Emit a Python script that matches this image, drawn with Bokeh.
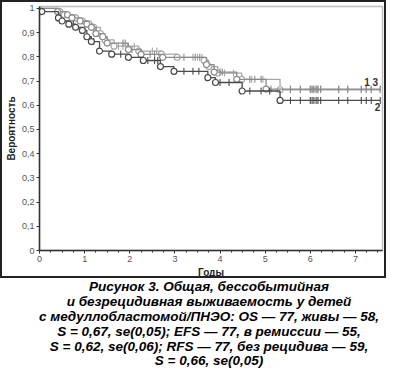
import numpy as np
from bokeh.plotting import figure
from bokeh.layouts import column
from bokeh.models import Range1d, FixedTicker, CustomJSTickFormatter
from bokeh.core.properties import value
from bokeh.embed import file_html
from bokeh.resources import INLINE

# ---- data ----
os_times = [0.40, 0.62, 0.72, 0.90, 1.05, 1.15, 1.25, 1.40, 1.50, 1.97, 2.25, 2.73, 3.70, 3.87, 4.37, 5.02]
os_surv = [0.987, 0.974, 0.961, 0.948, 0.935, 0.922, 0.896, 0.883, 0.857, 0.830, 0.810, 0.798, 0.768, 0.737, 0.707, 0.667]
os_cens = [1.85, 1.90, 2.05, 2.45, 2.55, 3.20, 3.45, 3.55, 4.00, 4.05, 4.66, 4.77, 4.91, 5.13,
           5.56, 5.78, 6.00, 6.04, 6.08, 6.13, 6.17, 6.23, 6.63, 6.83, 7.13, 7.24, 7.35, 7.55]

efs_times = [0.05, 0.42, 0.50, 0.65, 0.80, 0.95, 1.05, 1.15, 1.33, 1.60, 1.97, 2.30, 2.68, 2.98, 3.73, 3.90, 4.49, 5.33]
efs_surv = [0.987, 0.961, 0.948, 0.935, 0.922, 0.909, 0.883, 0.863, 0.824, 0.811, 0.798, 0.785, 0.760, 0.740, 0.714, 0.694, 0.659, 0.620]
efs_cens = [0.75, 1.20, 1.80, 2.00, 2.40, 2.55, 2.62, 3.20, 3.40, 3.53, 4.00, 4.20, 4.66, 4.91, 5.10,
            5.56, 5.78, 6.00, 6.04, 6.08, 6.13, 6.17, 6.23, 6.63, 6.83, 7.13, 7.24, 7.35, 7.55]

rfs_times = [0.45, 0.55, 0.80, 0.95, 1.10, 1.20, 1.35, 1.45, 1.65, 2.20, 2.70, 3.05, 3.65, 3.75, 3.95, 4.48, 5.33]
rfs_surv = [0.987, 0.974, 0.961, 0.948, 0.935, 0.922, 0.896, 0.870, 0.844, 0.824, 0.811, 0.798, 0.785, 0.760, 0.733, 0.707, 0.664]
rfs_cens = [0.60, 1.75, 1.85, 1.95, 2.10, 2.50, 2.60, 3.40, 3.50, 3.60, 3.98, 4.10, 4.30, 4.70, 4.95,
            5.56, 5.78, 6.00, 6.04, 6.08, 6.13, 6.17, 6.23, 6.63, 6.83, 7.13, 7.24, 7.35, 7.55]

curve_names = ["1", "2", "3"]
label_x = [7.26, 7.49, 7.44]
label_y = [0.698, 0.593, 0.698]

x_ticks = [0, 1, 2, 3, 4, 5, 6, 7]
y_ticks = [0, 0.1, 0.2, 0.3, 0.4, 0.5, 0.6, 0.7, 0.8, 0.9, 1.0]

caption_lines = [
    "Рисунок 3. Общая, бессобытийная",
    "и безрецидивная выживаемость у детей",
    "с медуллобластомой/ПНЭО: OS — 77, живы — 58,",
    "S = 0,67, se(0,05); EFS — 77, в ремиссии — 55,",
    "S = 0,62, se(0,06); RFS — 77, без рецидива — 59,",
    "S = 0,66, se(0,05)",
]

FONT = "Liberation Sans"
W, H = 382, 274

p = figure(width=W, height=H, x_range=Range1d(0, 7.6), y_range=Range1d(0, 1.008),
           toolbar_location=None, output_backend="svg",
           min_border_left=34, min_border_right=6, min_border_top=4, min_border_bottom=4)
p.styles = {"border": "2px solid #222222", "box-sizing": "content-box"}
p.grid.visible = False
p.outline_line_color = "#bdbdbd"
p.outline_line_width = 1.5
p.background_fill_color = "white"
p.border_fill_color = "white"

for ax in (p.xaxis[0], p.yaxis[0]):
    ax.axis_line_color = "#333333"
    ax.axis_line_width = 1.5
    ax.major_tick_line_color = "#333333"
    ax.minor_tick_line_color = "#333333"
    ax.major_tick_in = 0
    ax.major_tick_out = 3
    ax.minor_tick_in = 0
    ax.minor_tick_out = 2
    ax.major_label_text_font = FONT
    ax.major_label_text_font_size = "9px"
    ax.major_label_text_color = "#555555"
    ax.axis_label_text_font = FONT
    ax.axis_label_text_font_size = "10px"
    ax.axis_label_text_font_style = "bold"
    ax.axis_label_text_color = "#222222"
    ax.axis_label_standoff = 2
    ax.major_label_standoff = 2

p.xaxis[0].ticker = FixedTicker(ticks=x_ticks, minor_ticks=list(np.arange(0, 7.6, 0.25)))
p.yaxis[0].ticker = FixedTicker(ticks=y_ticks, minor_ticks=[])
p.yaxis[0].formatter = CustomJSTickFormatter(
    code="if (Math.abs(tick) < 1e-9 || Math.abs(tick - 1) < 1e-9) return tick.toFixed(0); return tick.toFixed(1).replace('.', ',');")
p.xaxis.axis_label = "Годы"
p.yaxis.axis_label = "Вероятность"

curves = [
    (rfs_times, rfs_surv, rfs_cens, "#a8a8a8"),
    (os_times, os_surv, os_cens, "#8a8a8a"),
    (efs_times, efs_surv, efs_cens, "#4a4a4a"),
]

for times, surv, cens, col in curves:
    t = np.array(times)
    s = np.array(surv)
    c = np.array(cens)
    end = max(c.max(), t.max())
    sx = np.concatenate([[0.0], t, [end]])
    sy = np.concatenate([[1.0], s, [s[-1]]])
    p.step(sx, sy, mode="after", line_color=col, line_width=1.3)
    idx = np.searchsorted(t, c, side="right")
    cy = np.where(idx == 0, 1.0, s[np.maximum(idx - 1, 0)])
    p.scatter(c, cy, marker="dash", angle=np.pi / 2, size=7, line_color=col, line_width=1.1)
    p.scatter(t, s, marker="circle", size=6, fill_color="white", line_color=col, line_width=1.2)

p.text(x=label_x, y=label_y, text=curve_names, text_font=value(FONT), text_font_size="10px",
       text_font_style="bold", text_color="#333333", text_align="center", text_baseline="middle")

cap = figure(width=386, height=90, x_range=Range1d(0, 1), y_range=Range1d(0, 1),
             toolbar_location=None, output_backend="svg", min_border=0)
cap.axis.visible = False
cap.grid.visible = False
cap.outline_line_color = None
n = len(caption_lines)
cap_x = [0.5] * n
cap_y = [1 - (0.09 + i * 0.165) for i in range(n)]
cap.text(x=cap_x, y=cap_y, text=caption_lines, text_font=value(FONT), text_font_size="13.5px",
         text_font_style="bold italic", text_color="#000000", text_align="center", text_baseline="middle")

layout = column(p, cap, spacing=0)
open("out.html", "w").write(file_html(layout, INLINE))
